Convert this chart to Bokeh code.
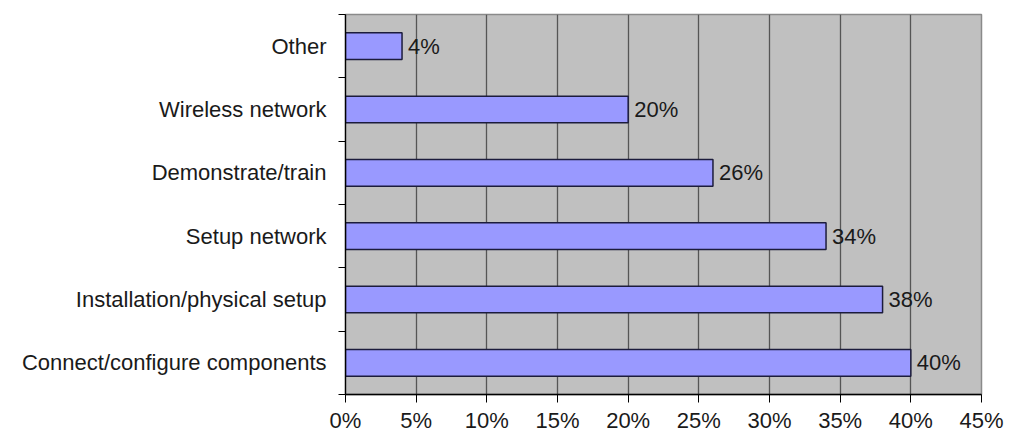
from bokeh.plotting import figure
from bokeh.models import ColumnDataSource, FixedTicker, PrintfTickFormatter, Range1d
from bokeh.core.properties import value
from bokeh.embed import file_html
from bokeh.resources import INLINE

# Data (bottom to top)
categories = [
    "Connect/configure components",
    "Installation/physical setup",
    "Setup network",
    "Demonstrate/train",
    "Wireless network",
    "Other",
]
percents = [40, 38, 34, 26, 20, 4]
x_ticks = [0, 5, 10, 15, 20, 25, 30, 35, 40, 45]

FONT = "Liberation Sans"

centers = [i + 0.5 for i in range(len(categories))]
boundaries = list(range(len(categories) + 1))
labels = [f"{v}%" for v in percents]

src = ColumnDataSource(dict(y=centers, v=percents, lab=labels))

p = figure(
    width=1010, height=435,
    x_range=Range1d(0, 45), y_range=Range1d(0, len(categories)),
    output_backend="svg", toolbar_location=None,
    min_border_left=345, min_border_right=29, min_border_top=14, min_border_bottom=40,
)
p.background_fill_color = "#c0c0c0"
p.border_fill_color = "white"
p.outline_line_color = "#8a8a8a"
p.outline_line_width = 1.5

p.hbar(y="y", right="v", left=0, height=0.42, source=src,
       fill_color="#9999ff", line_color="#1c1c3c", line_width=1.5)

p.text(x="v", y="y", text="lab", source=src, x_offset=6,
       text_baseline="middle", text_align="left",
       text_font=value(FONT), text_font_size="22px", text_color="#1a1a1a")

# grid
p.ygrid.visible = False
p.xgrid.ticker = FixedTicker(ticks=x_ticks)
p.xgrid.grid_line_color = "#555555"
p.xgrid.grid_line_width = 1.3

# x axis
xa = p.xaxis[0]
xa.ticker = FixedTicker(ticks=x_ticks)
xa.formatter = PrintfTickFormatter(format="%d%%")
xa.axis_line_color = "black"
xa.axis_line_width = 1.3
xa.major_tick_in = 0
xa.major_tick_out = 8
xa.major_tick_line_color = "black"
xa.minor_tick_line_color = None
xa.major_label_standoff = 5
xa.major_label_text_font = FONT
xa.major_label_text_font_size = "22px"
xa.major_label_text_color = "#1a1a1a"

# y axis
ya = p.yaxis[0]
ya.ticker = FixedTicker(ticks=centers, minor_ticks=boundaries)
ya.major_label_overrides = {c: name for c, name in zip(centers, categories)}
ya.axis_line_color = "black"
ya.axis_line_width = 1.3
ya.major_tick_in = 0
ya.major_tick_out = 0
ya.minor_tick_in = 0
ya.minor_tick_out = 7
ya.minor_tick_line_color = "black"
ya.major_label_standoff = 12
ya.major_label_text_font = FONT
ya.major_label_text_font_size = "22px"
ya.major_label_text_color = "#1a1a1a"

open("out.html", "w").write(file_html(p, INLINE))
